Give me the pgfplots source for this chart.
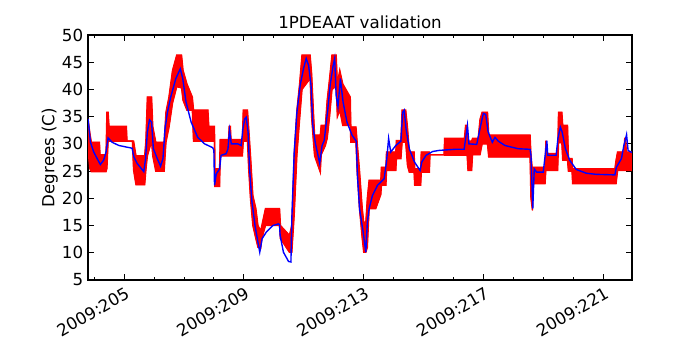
\documentclass[border=0pt]{standalone}
\usepackage{fontspec}
\setmainfont{DejaVu Sans}
\usepackage{pgfplots}
\pgfplotsset{compat=1.18}
\usepackage{pgfplotstable}

% red: envelope of the fast-switching measured signal (x, upper, lower)
\pgfplotstableread{
x U L
203.80 34.6 29.0
203.86 32.0 25.5
203.91 30.3 24.9
204.18 30.3 24.9
204.20 28.0 24.9
204.40 28.0 24.9
204.43 35.8 25.5
204.47 35.8 30.5
204.50 33.2 30.5
205.08 33.2 30.5
205.10 30.5 30.5
205.28 30.5 30.5
205.32 30.5 25.2
205.40 27.8 22.5
205.69 27.8 22.5
205.73 30.5 25.2
205.78 38.6 27.8
205.92 38.6 30.5
205.96 33.2 27.8
206.06 30.3 25.0
206.34 30.3 25.0
206.40 35.8 30.3
206.50 38.6 33.0
206.62 43.5 37.5
206.76 46.3 40.5
206.92 46.3 40.3
206.97 43.5 38.0
207.10 41.0 36.2
207.28 38.6 36.2
207.32 36.2 30.5
207.80 36.2 30.5
207.83 33.2 30.5
208.02 33.2 30.5
208.03 25.4 22.2
208.19 25.4 22.2
208.21 30.8 27.8
208.49 30.8 27.8
208.51 33.2 27.8
208.55 33.2 27.8
208.57 30.8 27.8
208.95 30.8 27.8
208.98 36.2 30.5
209.12 36.2 30.5
209.16 33.0 25.5
209.22 28.0 20.0
209.30 20.5 15.0
209.40 18.1 12.6
209.47 15.0 11.0
209.56 14.0 10.8
209.60 15.0 12.6
209.72 18.1 15.0
210.19 18.1 15.0
210.22 15.0 12.6
210.52 13.2 10.1
210.60 15.0 10.1
210.68 28.0 17.0
210.77 36.2 28.0
210.86 41.0 34.5
210.94 46.3 40.0
211.21 46.3 42.0
211.26 43.0 35.0
211.32 36.0 30.5
211.36 31.6 27.8
211.55 31.6 24.8
211.58 33.4 28.0
211.72 33.4 29.7
211.78 38.0 31.0
211.86 42.0 35.0
211.94 46.3 40.0
212.08 46.3 40.6
212.12 41.0 35.0
212.20 43.5 36.2
212.30 41.0 33.4
212.55 38.6 33.4
212.57 33.1 30.3
212.74 33.1 30.3
212.78 30.3 25.0
212.86 25.0 18.0
212.95 18.1 12.6
213.00 15.6 10.1
213.07 15.6 10.1
213.12 20.0 11.0
213.18 23.3 18.1
213.40 23.3 18.1
213.57 23.3 20.7
213.59 25.7 22.4
213.74 25.7 22.4
213.76 28.5 25.1
214.07 28.5 25.1
214.09 30.6 27.3
214.24 30.6 27.3
214.28 36.2 30.3
214.40 36.2 30.3
214.46 33.0 26.0
214.52 28.5 24.8
214.68 28.5 24.8
214.70 25.4 22.4
214.90 25.4 22.4
214.92 28.5 24.8
215.19 28.5 24.8
215.21 28.0 28.0
215.68 28.0 28.0
215.70 31.0 27.9
216.36 31.0 27.9
216.40 33.4 27.9
216.45 33.4 27.9
216.48 30.5 25.1
216.60 30.5 25.1
216.63 31.0 28.0
216.82 31.0 28.0
216.88 34.5 28.0
216.95 35.8 30.0
217.13 35.8 30.0
217.17 31.6 27.6
218.55 31.6 27.6
218.58 28.0 20.0
218.63 25.0 17.8
218.66 25.7 22.7
219.05 25.7 22.7
219.08 30.6 25.5
219.10 28.2 25.1
219.47 28.2 25.1
219.50 35.8 30.2
219.61 35.8 30.2
219.64 33.4 27.0
219.80 33.4 27.0
219.83 27.3 25.0
219.95 27.3 25.0
219.97 25.4 22.7
221.38 25.4 22.7
221.42 27.0 22.7
221.47 28.5 25.1
221.68 28.5 25.1
221.71 31.0 25.1
221.74 31.0 25.1
221.76 28.5 25.1
221.95 28.5 25.1
}\meas

% blue: model prediction
\pgfplotstableread{
x y
203.80 34.6
203.88 30.3
203.99 28.5
204.21 26.2
204.32 27.0
204.40 28.5
204.47 31.1
204.60 30.3
204.83 29.7
205.27 29.2
205.33 27.6
205.44 26.4
205.66 24.9
205.72 27.3
205.78 32.2
205.85 34.4
205.92 34.0
205.98 29.1
206.11 27.3
206.22 25.9
206.30 27.3
206.37 32.8
206.45 35.8
206.56 38.6
206.73 42.0
206.88 43.8
206.96 42.0
207.07 37.7
207.24 34.0
207.46 31.2
207.69 30.0
207.96 29.3
208.00 28.8
208.02 22.4
208.08 24.5
208.19 25.4
208.24 27.9
208.41 28.2
208.47 29.1
208.52 32.5
208.58 30.0
208.80 30.0
208.91 29.7
208.97 32.8
209.03 34.6
209.08 34.9
209.14 32.2
209.19 25.4
209.27 19.3
209.38 14.7
209.53 10.1
209.61 12.6
209.75 13.8
209.97 15.0
210.15 15.3
210.19 15.2
210.21 13.2
210.32 10.1
210.49 8.4
210.57 8.3
210.60 16.2
210.68 28.5
210.77 35.8
210.88 40.8
210.99 43.8
211.08 45.7
211.16 44.4
211.24 40.8
211.30 33.4
211.38 30.3
211.53 26.4
211.61 29.7
211.68 30.6
211.79 35.8
211.88 40.8
211.97 44.1
212.03 45.7
212.08 38.9
212.14 36.8
212.22 42.0
212.31 37.7
212.44 34.0
212.61 31.6
212.75 30.5
212.79 24.2
212.86 18.1
212.98 13.8
213.07 10.1
213.12 15.6
213.18 18.1
213.29 20.5
213.46 22.4
213.68 23.6
213.76 26.7
213.83 31.0
213.90 28.5
214.07 29.7
214.24 30.5
214.30 35.8
214.35 36.2
214.41 32.8
214.52 29.1
214.69 26.7
214.88 25.1
214.94 26.7
215.08 27.9
215.30 28.6
215.52 28.8
216.04 29.0
216.35 29.0
216.46 33.4
216.51 30.0
216.77 29.9
216.88 32.8
216.99 35.6
217.07 35.4
217.15 32.2
217.29 30.3
217.38 31.2
217.49 30.5
217.71 29.7
218.16 29.1
218.55 29.0
218.58 27.9
218.64 18.1
218.69 25.4
218.77 24.8
218.99 24.8
219.11 30.6
219.14 27.9
219.42 27.9
219.48 31.0
219.56 33.1
219.62 32.2
219.73 29.1
219.87 27.0
220.09 25.3
220.43 24.6
220.76 24.4
221.38 24.3
221.43 25.7
221.60 27.3
221.68 29.7
221.77 31.7
221.82 28.8
221.95 28.4
}\model

\begin{document}
\begin{tikzpicture}
\useasboundingbox (-63.4pt,-50.4pt) rectangle (440.7pt,201.6pt);
\begin{axis}[
    at={(0,0)}, anchor=south west,
    scale only axis,
    width=391.7pt, height=176.4pt,
    xmin=203.8, xmax=221.95,
    ymin=5, ymax=50,
    ytick={5,10,...,50},
    xtick={205,209,213,217,221},
    xticklabels={2009:205,2009:209,2009:213,2009:217,2009:221},
    minor xtick={204,206,207,208,210,211,212,214,215,216,218,219,220},
    tick align=inside,
    major tick length=4pt, minor tick length=2pt,
    every tick/.style={black, line width=0.6pt},
    axis line style={black, line width=0.8pt},
    tick label style={font=\fontsize{12}{14}\selectfont},
    label style={font=\fontsize{12}{14}\selectfont},
    title style={font=\fontsize{12}{14}\selectfont, yshift=-5pt},
    /pgf/number format/assume math mode=true,
    x tick label style={rotate=30, anchor=north east, inner sep=2pt, yshift=-2pt},
    ylabel={Degrees (C)},
    ylabel style={yshift=-4pt},
    title={1PDEAAT validation},
  ]
  % filled band between lower and upper envelope (stacked)
  \addplot[draw=none, stack plots=y, forget plot] table[x=x, y=L] {\meas};
  \addplot[red, fill=red, line width=0.5pt, stack plots=y]
      table[x=x, y expr=\thisrow{U}-\thisrow{L}] {\meas} \closedcycle;
  \addplot[red, line width=1pt, stack plots=false] table[x=x, y=U] {\meas};
  \addplot[red, line width=1pt, stack plots=false] table[x=x, y=L] {\meas};
  \addplot[blue, line width=1pt, stack plots=false] table[x=x, y=y] {\model};
\end{axis}
\end{tikzpicture}
\end{document}
